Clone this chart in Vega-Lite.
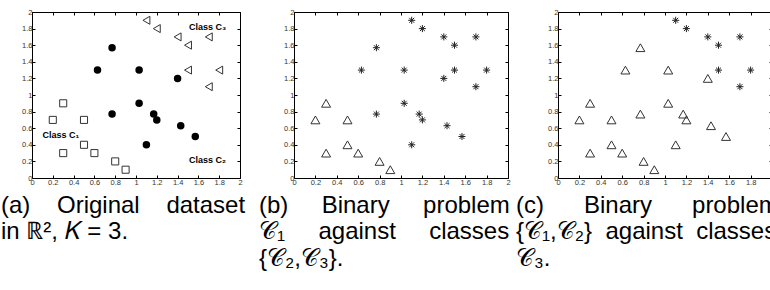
{
  "$schema": "https://vega.github.io/schema/vega-lite/v6.json",
  "padding": {"left": 0, "top": 7, "right": 0, "bottom": 0},
  "background": "white",
  "datasets": {
    "pts": [
      {"c": "C1", "x": 0.2, "y": 0.7}, {"c": "C1", "x": 0.3, "y": 0.9}, {"c": "C1", "x": 0.5, "y": 0.7},
      {"c": "C1", "x": 0.3, "y": 0.3}, {"c": "C1", "x": 0.5, "y": 0.4}, {"c": "C1", "x": 0.6, "y": 0.3},
      {"c": "C1", "x": 0.8, "y": 0.2}, {"c": "C1", "x": 0.9, "y": 0.1},
      {"c": "C2", "x": 0.77, "y": 1.57}, {"c": "C2", "x": 0.63, "y": 1.3}, {"c": "C2", "x": 1.03, "y": 1.3},
      {"c": "C2", "x": 1.4, "y": 1.2}, {"c": "C2", "x": 0.77, "y": 0.77}, {"c": "C2", "x": 1.03, "y": 0.9},
      {"c": "C2", "x": 1.17, "y": 0.77}, {"c": "C2", "x": 1.2, "y": 0.7}, {"c": "C2", "x": 1.43, "y": 0.63},
      {"c": "C2", "x": 1.57, "y": 0.5}, {"c": "C2", "x": 1.1, "y": 0.4},
      {"c": "C3", "x": 1.1, "y": 1.9}, {"c": "C3", "x": 1.2, "y": 1.8}, {"c": "C3", "x": 1.4, "y": 1.7},
      {"c": "C3", "x": 1.5, "y": 1.6}, {"c": "C3", "x": 1.7, "y": 1.7}, {"c": "C3", "x": 1.5, "y": 1.3},
      {"c": "C3", "x": 1.8, "y": 1.3}, {"c": "C3", "x": 1.7, "y": 1.1}
    ],
    "lab": [
      {"x": 0.1, "y": 0.52, "t": "Class C₁"},
      {"x": 1.51, "y": 0.22, "t": "Class C₂"},
      {"x": 1.51, "y": 1.82, "t": "Class C₃"}
    ]
  },
  "spacing": 54,
  "bounds": "flush",
  "hconcat": [
    {
      "width": 208, "height": 166,
      "data": {"name": "pts"},
      "title": {"text": ["(a)\u00a0\u00a0\u00a0\u00a0Original\u00a0\u00a0\u00a0\u00a0dataset", "in ℝ², 𝐾 = 3."], "dx": -31},
      "layer": [
        {
          "transform": [{"filter": "datum.c === 'C1'"}],
          "mark": {"type": "point", "shape": "square", "size": 50, "filled": false, "stroke": "#333", "strokeWidth": 1, "opacity": 1},
          "encoding": {
            "x": {"field": "x", "type": "quantitative", "scale": {"domain": [0, 2], "nice": false}, "axis": {"orient": "bottom", "format": "~g", "title": null}},
            "y": {"field": "y", "type": "quantitative", "scale": {"domain": [0, 2], "nice": false}, "axis": {"orient": "left", "format": "~g", "title": null}}
          }
        },
        {
          "transform": [{"filter": "datum.c === 'C2'"}],
          "mark": {"type": "point", "shape": "circle", "size": 56, "filled": true, "color": "#000", "opacity": 1},
          "encoding": {
            "x": {"field": "x", "type": "quantitative", "axis": null},
            "y": {"field": "y", "type": "quantitative", "axis": null}
          }
        },
        {
          "transform": [{"filter": "datum.c === 'C3'"}],
          "mark": {"type": "point", "shape": "triangle-left", "size": 64, "filled": false, "stroke": "#333", "strokeWidth": 1, "opacity": 1},
          "encoding": {
            "x": {"field": "x", "type": "quantitative", "axis": {"orient": "top", "labels": false, "title": null}},
            "y": {"field": "y", "type": "quantitative", "axis": {"orient": "right", "labels": false, "title": null}}
          }
        },
        {
          "data": {"name": "lab"},
          "mark": {"type": "text", "align": "left", "baseline": "middle", "fontWeight": "bold", "fontSize": 9, "font": "Liberation Sans", "color": "#000"},
          "encoding": {
            "x": {"field": "x", "type": "quantitative", "axis": null},
            "y": {"field": "y", "type": "quantitative", "axis": null},
            "text": {"field": "t"}
          }
        }
      ],
      "resolve": {"axis": {"x": "independent", "y": "independent"}}
    },
    {
      "spacing": 50,
      "bounds": "flush",
      "hconcat": [
        {
          "width": 214, "height": 166,
          "data": {"name": "pts"},
          "title": {"text": ["(b)\u00a0\u00a0\u00a0\u00a0\u00a0Binary\u00a0\u00a0\u00a0\u00a0\u00a0problem", "𝒞₁\u00a0\u00a0\u00a0\u00a0\u00a0against\u00a0\u00a0\u00a0\u00a0\u00a0classes", "{𝒞₂,𝒞₃}."], "dx": -35},
          "layer": [
            {
              "transform": [{"filter": "datum.c === 'C1'"}],
              "mark": {"type": "point", "shape": "triangle-up", "size": 81, "filled": false, "stroke": "#333", "strokeWidth": 1, "opacity": 1},
              "encoding": {
                "x": {"field": "x", "type": "quantitative", "scale": {"domain": [0, 2], "nice": false}, "axis": {"orient": "bottom", "format": "~g", "title": null}},
                "y": {"field": "y", "type": "quantitative", "scale": {"domain": [0, 2], "nice": false}, "axis": {"orient": "left", "format": "~g", "title": null}}
              }
            },
            {
              "transform": [{"filter": "datum.c !== 'C1'"}],
              "mark": {"type": "point", "shape": "M-1,0L1,0M0,-1L0,1M-0.7,-0.7L0.7,0.7M-0.7,0.7L0.7,-0.7", "size": 50, "filled": false, "stroke": "#222", "strokeWidth": 1, "opacity": 1},
              "encoding": {
                "x": {"field": "x", "type": "quantitative", "axis": {"orient": "top", "labels": false, "title": null}},
                "y": {"field": "y", "type": "quantitative", "axis": {"orient": "right", "labels": false, "title": null}}
              }
            }
          ],
          "resolve": {"axis": {"x": "independent", "y": "independent"}}
        },
        {
          "width": 214, "height": 166,
          "data": {"name": "pts"},
          "title": {"text": ["(c)\u00a0\u00a0\u00a0\u00a0\u00a0\u00a0Binary\u00a0\u00a0\u00a0\u00a0\u00a0\u00a0problem", "{𝒞₁,𝒞₂}\u00a0\u00a0against\u00a0\u00a0classes", "𝒞₃."], "dx": -42},
          "layer": [
            {
              "transform": [{"filter": "datum.c !== 'C3'"}],
              "mark": {"type": "point", "shape": "triangle-up", "size": 81, "filled": false, "stroke": "#333", "strokeWidth": 1, "opacity": 1},
              "encoding": {
                "x": {"field": "x", "type": "quantitative", "scale": {"domain": [0, 2], "nice": false}, "axis": {"orient": "bottom", "format": "~g", "title": null}},
                "y": {"field": "y", "type": "quantitative", "scale": {"domain": [0, 2], "nice": false}, "axis": {"orient": "left", "format": "~g", "title": null}}
              }
            },
            {
              "transform": [{"filter": "datum.c === 'C3'"}],
              "mark": {"type": "point", "shape": "M-1,0L1,0M0,-1L0,1M-0.7,-0.7L0.7,0.7M-0.7,0.7L0.7,-0.7", "size": 50, "filled": false, "stroke": "#222", "strokeWidth": 1, "opacity": 1},
              "encoding": {
                "x": {"field": "x", "type": "quantitative", "axis": {"orient": "top", "labels": false, "title": null}},
                "y": {"field": "y", "type": "quantitative", "axis": {"orient": "right", "labels": false, "title": null}}
              }
            }
          ],
          "resolve": {"axis": {"x": "independent", "y": "independent"}}
        }
      ]
    }
  ],
  "config": {
    "view": {"stroke": "#000", "strokeWidth": 1},
    "axis": {
      "domain": false, "grid": false, "ticks": true, "tickSize": -3, "tickColor": "#000",
      "labelFontSize": 7.5, "labelColor": "#333", "labelFont": "Liberation Sans", "labelPadding": 3,
      "tickCount": 10, "labelFlush": false, "labelOverlap": false
    },
    "title": {
      "orient": "bottom", "anchor": "start", "frame": "group", "offset": 8,
      "font": "Liberation Sans", "fontSize": 24, "fontWeight": "normal", "color": "#000", "lineHeight": 26.5
    }
  }
}
